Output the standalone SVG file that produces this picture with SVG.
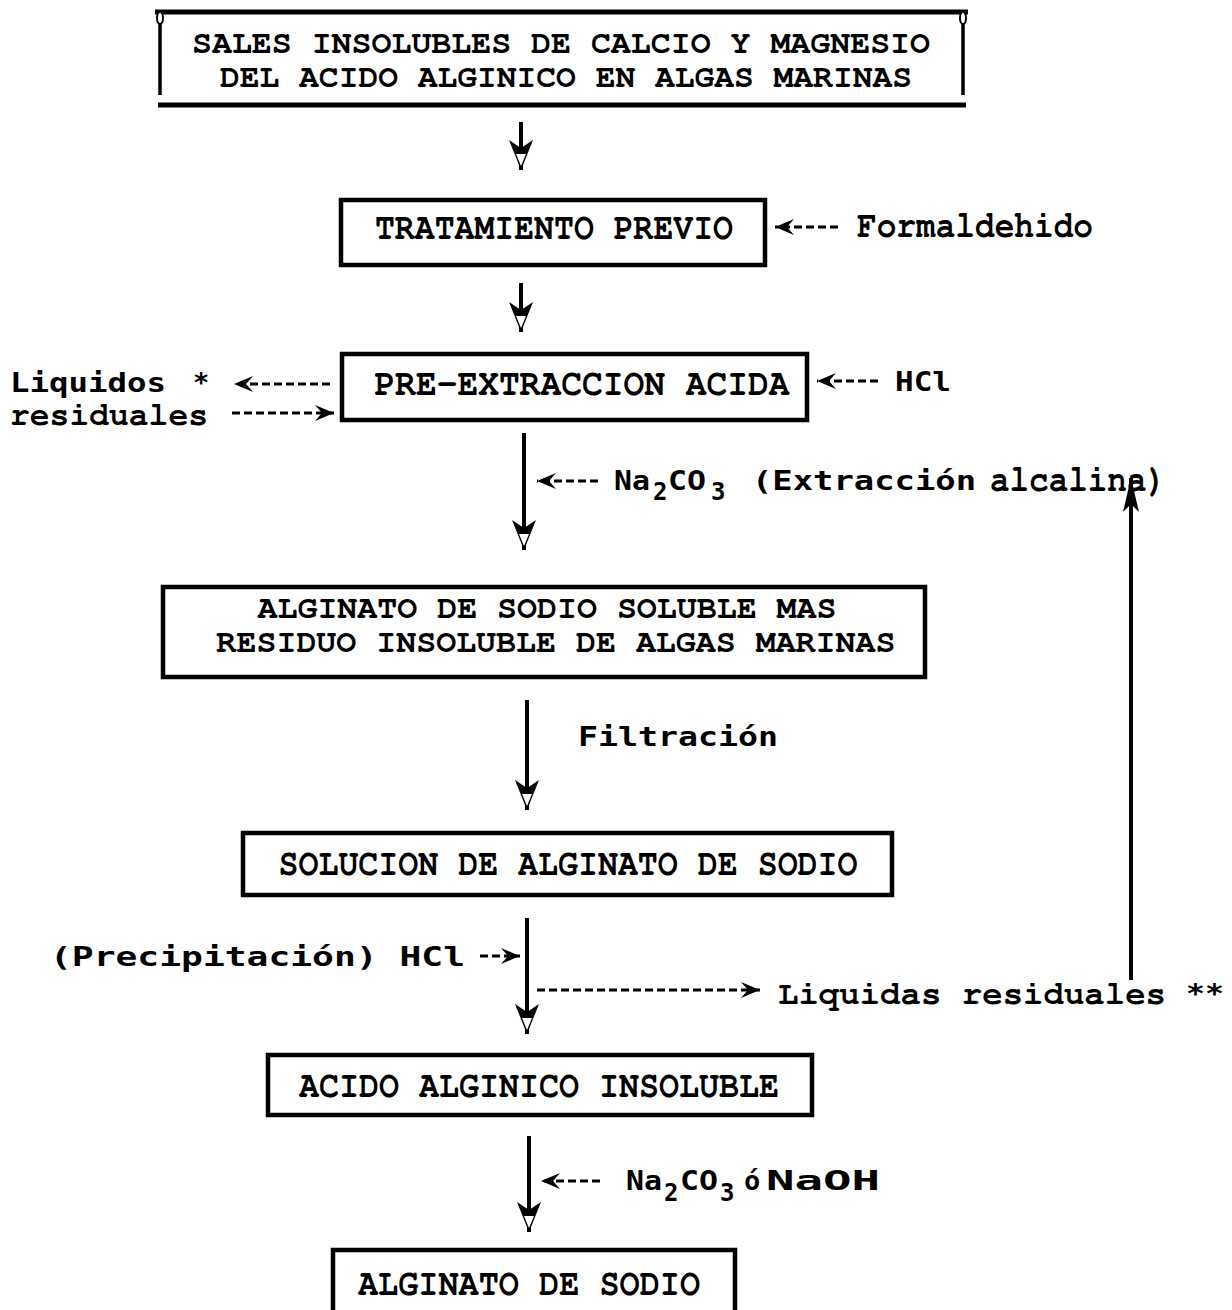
<svg xmlns="http://www.w3.org/2000/svg" width="1232" height="1310" viewBox="0 0 1232 1310">
<style>
.box{fill:none;stroke:#000;stroke-width:4.5}
.t{font-family:"Nimbus Mono PS","FreeMono","Courier","Liberation Mono",monospace;font-weight:bold;font-size:37px;fill:#000}
.tl{font-size:33px}
.m{font-family:"DejaVu Sans Mono","Liberation Mono",monospace;font-weight:bold;font-size:27px;fill:#000}
.s{font-size:24px}
.flow{fill:none;stroke:#000;stroke-width:4}
.dash{fill:none;stroke:#000;stroke-width:3;stroke-dasharray:8,4}
</style>
<defs>
<marker id="head" markerUnits="userSpaceOnUse" markerWidth="34" markerHeight="30" viewBox="-32 -15 34 30" refX="0" refY="0" orient="auto">
<path d="M-30,-12 L0,0 L-30,12 L-22,0 Z" fill="#000"/>
<path d="M-16,-5 L-4,0 L-16,5 Z" fill="#fff"/>
</marker>
<marker id="open" markerUnits="userSpaceOnUse" markerWidth="24" markerHeight="20" viewBox="-22 -10 24 20" refX="0" refY="0" orient="auto">
<path d="M-19,-8 L0,0 L-19,8 L-12,0 Z" fill="#000"/>
</marker>
<marker id="up" markerUnits="userSpaceOnUse" markerWidth="40" markerHeight="24" viewBox="-36 -12 38 24" refX="0" refY="0" orient="auto">
<path d="M-34,-8 L0,0 L-34,8 L-26,0 Z" fill="#000"/>
</marker>
</defs>

<g id="n1">
<path d="M155,12 H968" stroke="#000" stroke-width="5"/>
<path d="M160,14 V95 M963,14 V95" stroke="#000" stroke-width="3.5"/>
<ellipse cx="160" cy="18" rx="3" ry="6" fill="#fff" stroke="#000" stroke-width="2"/>
<ellipse cx="963" cy="18" rx="3" ry="6" fill="#fff" stroke="#000" stroke-width="2"/>
<path d="M158,105 H966" stroke="#000" stroke-width="5"/>
<text class="t tl" x="561" y="53" text-anchor="middle" textLength="738" lengthAdjust="spacingAndGlyphs">SALES INSOLUBLES DE CALCIO Y MAGNESIO</text>
<text class="t tl" x="566" y="87" text-anchor="middle" textLength="692" lengthAdjust="spacingAndGlyphs">DEL ACIDO ALGINICO EN ALGAS MARINAS</text>
</g>

<g id="n2">
<rect class="box" x="341" y="200" width="424" height="65"/>
<text class="t" x="554" y="239" text-anchor="middle" textLength="358" lengthAdjust="spacingAndGlyphs">TRATAMIENTO PREVIO</text>
</g>

<g id="n3">
<rect class="box" x="342" y="354" width="465" height="66"/>
<text class="t" x="582" y="395" text-anchor="middle" textLength="415" lengthAdjust="spacingAndGlyphs">PRE-EXTRACCION ACIDA</text>
</g>

<g id="n4">
<rect class="box" x="163" y="587" width="762" height="90"/>
<text class="t tl" x="547" y="618" text-anchor="middle" textLength="579" lengthAdjust="spacingAndGlyphs">ALGINATO DE SODIO SOLUBLE MAS</text>
<text class="t tl" x="556" y="652" text-anchor="middle" textLength="679" lengthAdjust="spacingAndGlyphs">RESIDUO INSOLUBLE DE ALGAS MARINAS</text>
</g>

<g id="n5">
<rect class="box" x="243" y="833" width="649" height="62"/>
<text class="t" x="568" y="875" text-anchor="middle" textLength="579" lengthAdjust="spacingAndGlyphs">SOLUCION DE ALGINATO DE SODIO</text>
</g>

<g id="n6">
<rect class="box" x="268" y="1055" width="544" height="60"/>
<text class="t" x="539" y="1097" text-anchor="middle" textLength="480" lengthAdjust="spacingAndGlyphs">ACIDO ALGINICO INSOLUBLE</text>
</g>

<g id="n7">
<path class="box" d="M333,1312 V1250 H735 V1312"/>
<text class="t" x="529" y="1295" text-anchor="middle" textLength="342" lengthAdjust="spacingAndGlyphs">ALGINATO DE SODIO</text>
</g>

<g id="labels">
<text class="t" x="857" y="237" textLength="236" lengthAdjust="spacingAndGlyphs">Formaldehido</text>
<text class="m" x="895" y="391" textLength="56" lengthAdjust="spacingAndGlyphs">HCl</text>
<text class="m" x="10" y="392" textLength="156" lengthAdjust="spacingAndGlyphs">Liquidos</text>
<text class="m" x="193" y="392">*</text>
<text class="t tl" x="10" y="425" textLength="198" lengthAdjust="spacingAndGlyphs">residuales</text>
<text class="m" x="614" y="490" textLength="36" lengthAdjust="spacingAndGlyphs">Na</text>
<text class="m s" x="653" y="500">2</text>
<text class="m" x="668" y="490" textLength="38" lengthAdjust="spacingAndGlyphs">CO</text>
<text class="m s" x="711" y="500">3</text>
<text class="m" x="752" y="490" textLength="224" lengthAdjust="spacingAndGlyphs">(Extracción</text>
<text class="t" x="990" y="491" textLength="176" lengthAdjust="spacingAndGlyphs">alcalina)</text>
<text class="m" x="578" y="746" textLength="200" lengthAdjust="spacingAndGlyphs">Filtración</text>
<text class="m" x="50" y="966" textLength="415" lengthAdjust="spacingAndGlyphs">(Precipitación) HCl</text>
<text class="t tl" x="778" y="1004" textLength="388" lengthAdjust="spacingAndGlyphs">Liquidas residuales</text>
<text class="m" x="1186" y="1003" textLength="38" lengthAdjust="spacingAndGlyphs">**</text>
<text class="m" x="626" y="1190" textLength="36" lengthAdjust="spacingAndGlyphs">Na</text>
<text class="m s" x="664" y="1201">2</text>
<text class="m" x="680" y="1190" textLength="38" lengthAdjust="spacingAndGlyphs">CO</text>
<text class="m s" x="720" y="1201">3</text>
<text class="m" x="744" y="1190">ó</text>
<text class="m" x="766" y="1190" font-size="30" textLength="114" lengthAdjust="spacingAndGlyphs">NaOH</text>
</g>

<g id="connectors">
<path class="flow" d="M521,122 V170" marker-end="url(#head)"/>
<path class="flow" d="M521,283 V332" marker-end="url(#head)"/>
<path class="flow" d="M524,433 V550" marker-end="url(#head)"/>
<path class="flow" d="M527,700 V810" marker-end="url(#head)"/>
<path class="flow" d="M527,918 V1034" marker-end="url(#head)"/>
<path class="flow" d="M529,1136 V1232" marker-end="url(#head)"/>
<path class="dash" d="M838,227 H775" marker-end="url(#open)"/>
<path class="dash" d="M878,381 H817" marker-end="url(#open)"/>
<path class="dash" d="M330,384 H234" marker-end="url(#open)"/>
<path class="dash" d="M232,413 H334" marker-end="url(#open)"/>
<path class="dash" d="M598,481 H537" marker-end="url(#open)"/>
<path class="dash" d="M480,956 H520" marker-end="url(#open)"/>
<path class="dash" d="M537,990 H760" marker-end="url(#open)"/>
<path class="dash" d="M600,1181 H541" marker-end="url(#open)"/>
<path class="flow" d="M1131,980 V478" marker-end="url(#up)"/>
</g>
</svg>
